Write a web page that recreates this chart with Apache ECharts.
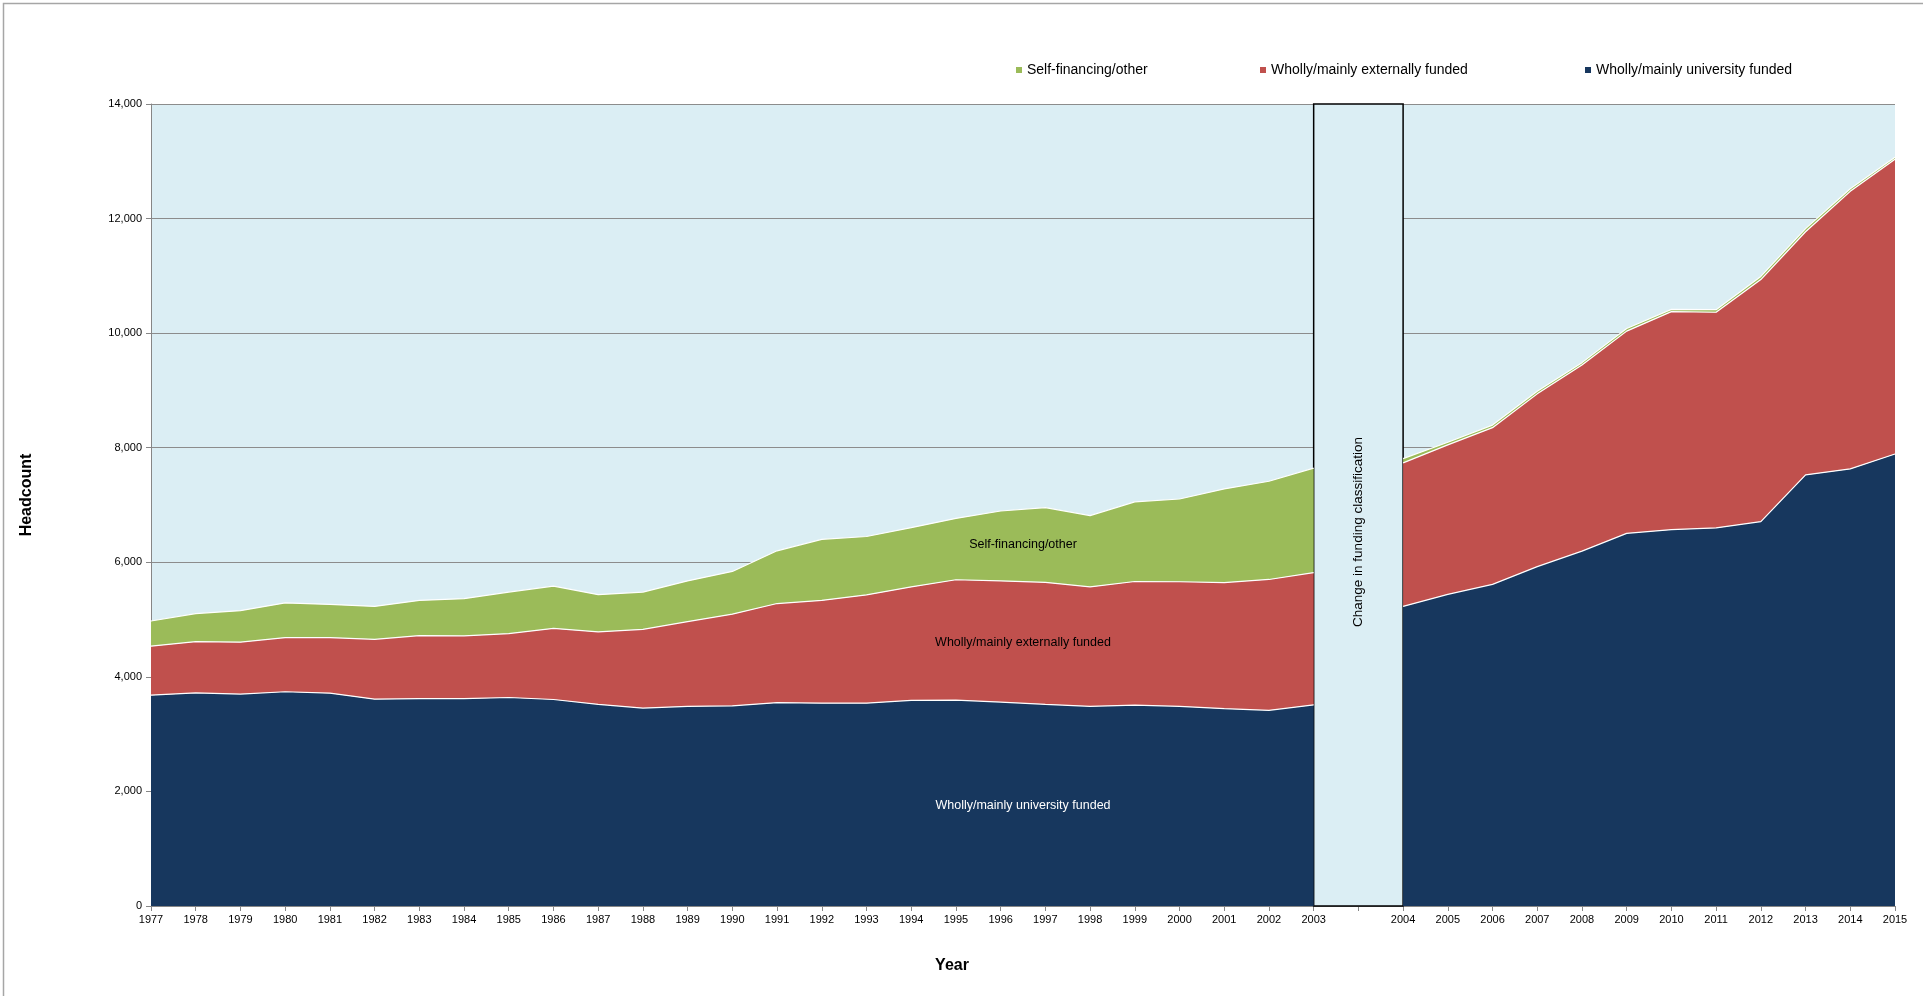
<!DOCTYPE html>
<html>
<head>
<meta charset="utf-8">
<script src="https://cdn.jsdelivr.net/npm/echarts@6/dist/echarts.min.js"></script>
<style>
html,body{margin:0;padding:0;background:#fff;}
#c{width:1923px;height:996px;}
</style>
</head>
<body>
<div id="c"></div>
<script>
// Categories: a blank slot sits between 2003 and 2004 (change in classification)
const GAP = ' ';
const years = ['1977','1978','1979','1980','1981','1982','1983','1984','1985','1986','1987','1988','1989','1990','1991','1992','1993','1994','1995','1996','1997','1998','1999','2000','2001','2002','2003',GAP,'2004','2005','2006','2007','2008','2009','2010','2011','2012','2013','2014','2015'];

const universityFunded = [3680,3720,3700,3740,3715,3610,3620,3620,3640,3605,3520,3455,3485,3495,3550,3540,3540,3590,3595,3560,3520,3485,3505,3485,3445,3415,3510,null,5230,5440,5615,5925,6195,6505,6570,6600,6710,7525,7630,7890];
const externallyFunded = [855,895,905,945,970,1045,1100,1095,1115,1240,1265,1375,1480,1600,1730,1795,1890,1980,2100,2115,2130,2085,2160,2175,2200,2285,2310,null,2505,2610,2735,3015,3250,3530,3805,3765,4225,4245,4845,5145];
const selfFinancing = [440,490,550,605,580,575,615,650,725,740,650,650,710,745,920,1065,1020,1035,1070,1220,1305,1245,1390,1445,1635,1715,1825,null,75,45,45,45,40,45,40,45,55,55,45,35];

const yTicks = {min:0, max:14000, interval:2000};

const NAMES = {
  uni: 'Wholly/mainly university funded',
  ext: 'Wholly/mainly externally funded',
  self: 'Self-financing/other'
};
const COLORS = {uni:'#17375E', ext:'#C0504D', self:'#9BBB59'};
const FONT = '"Liberation Sans", Arial, sans-serif';

const chart = echarts.init(document.getElementById('c'));

function areaSeries(key, data, extra) {
  return Object.assign({
    name: NAMES[key],
    type: 'line',
    stack: 'total',
    data: data,
    showSymbol: false,
    symbol: 'none',
    connectNulls: false,
    lineStyle: {color:'#ffffff', width:1.2},
    areaStyle: {color: COLORS[key], opacity: 1},
    itemStyle: {color: COLORS[key]},
    emphasis: {disabled: true},
    silent: true
  }, extra || {});
}

function legendFor(key, left) {
  return {
    data: [{name: NAMES[key], icon: 'rect', itemStyle: {color: COLORS[key]}}],
    left: left, top: 58,
    itemWidth: 6, itemHeight: 6,
    textStyle: {fontFamily: FONT, fontSize: 14, color: '#000'},
    selectedMode: false
  };
}

const option = {
  animation: false,
  backgroundColor: '#ffffff',
  textStyle: {fontFamily: FONT},
  legend: [legendFor('self', 1011), legendFor('ext', 1255), legendFor('uni', 1580)],
  grid: {left: 151, right: 28, top: 104, bottom: 90, show: true, backgroundColor: '#DBEEF4', borderWidth: 0},
  xAxis: {
    type: 'category',
    data: years,
    boundaryGap: false,
    axisLine: {show: true, lineStyle: {color: '#868686', width: 1}},
    axisTick: {show: true, interval: 0, length: 5, lineStyle: {color: '#868686'}},
    axisLabel: {interval: 0, fontSize: 11, color: '#000', fontFamily: FONT, margin: 8},
    splitLine: {show: false}
  },
  yAxis: {
    type: 'value',
    min: yTicks.min, max: yTicks.max, interval: yTicks.interval,
    axisLine: {show: true, lineStyle: {color: '#868686', width: 1}},
    axisTick: {show: true, length: 5, lineStyle: {color: '#868686'}},
    axisLabel: {fontSize: 11, color: '#000', fontFamily: FONT, margin: 9,
      formatter: v => v.toLocaleString('en-US')},
    splitLine: {show: true, lineStyle: {color: '#8C8C8C', width: 1}}
  },
  series: [
    areaSeries('uni', universityFunded),
    areaSeries('ext', externallyFunded),
    areaSeries('self', selfFinancing, {
      markArea: {
        silent: true,
        itemStyle: {color: '#DBEEF4', borderColor: '#000', borderWidth: 1.5},
        label: {show: false},
        data: [[{xAxis: '2003', yAxis: yTicks.min}, {xAxis: '2004', yAxis: yTicks.max}]]
      }
    })
  ]
};
chart.setOption(option);

// Annotations placed from the axis scales
const gapX = chart.convertToPixel({xAxisIndex: 0}, GAP);
const midX = (chart.convertToPixel({xAxisIndex: 0}, '1996') + chart.convertToPixel({xAxisIndex: 0}, '1997')) / 2;
function txt(x, y, text, opts) {
  return Object.assign({
    type: 'text', x: x, y: y, silent: true, z: 100,
    style: Object.assign({text: text, fill: '#000', font: '12.5px ' + FONT, textAlign: 'center', textVerticalAlign: 'middle'}, opts && opts.style || {})
  }, opts && opts.el || {});
}
chart.setOption({
  graphic: [
    {type: 'rect', shape: {x: 3.5, y: 3.5, width: 2000, height: 2000}, style: {fill: 'none', stroke: '#A6A6A6', lineWidth: 1.5}, silent: true, z: 0},
    txt(midX, 545, 'Self-financing/other'),
    txt(midX, 643, 'Wholly/mainly externally funded'),
    txt(midX, 806, 'Wholly/mainly university funded', {style: {fill: '#ffffff'}}),
    txt(gapX, 532, 'Change in funding classification', {style: {font: '13.5px ' + FONT}, el: {rotation: Math.PI / 2}}),
    txt(952, 966, 'Year', {style: {font: 'bold 16px ' + FONT}}),
    txt(27, 495, 'Headcount', {style: {font: 'bold 16px ' + FONT}, el: {rotation: Math.PI / 2}})
  ]
});
</script>
</body>
</html>
